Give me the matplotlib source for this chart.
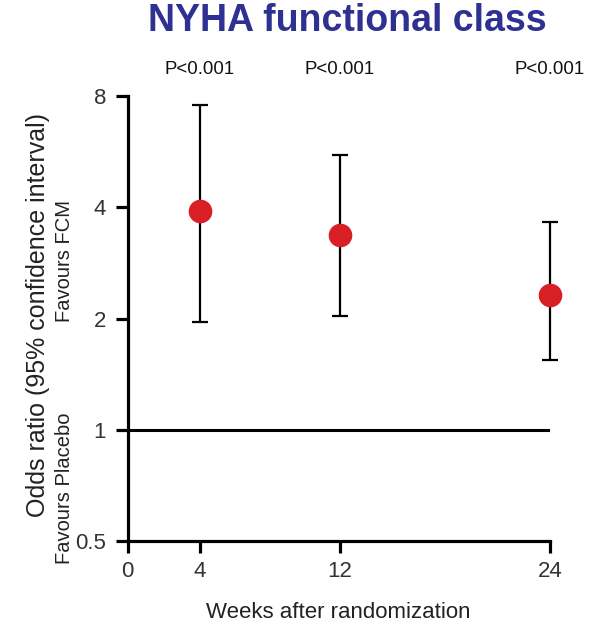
import numpy as np
import matplotlib.pyplot as plt

plt.rcParams['font.family'] = ['Liberation Sans', 'DejaVu Sans']

# data
weeks = [4, 12, 24]
odds = [3.92, 3.37, 2.31]
ci_low = [1.96, 2.03, 1.54]
ci_high = [7.55, 5.54, 3.66]
p_labels = ['P<0.001', 'P<0.001', 'P<0.001']
xticks = [0, 4, 12, 24]
yticks = [0.5, 1, 2, 4, 8]

# uneven spacing of the week axis
tick_pos = [0, 72.3, 212.3, 422.3]
def fwd(x):
    return np.interp(x, xticks, tick_pos)
def inv(x):
    return np.interp(x, tick_pos, xticks)

fig = plt.figure(figsize=(5.9, 6.28), dpi=100)
ax = fig.add_axes([0.2164, 0.1385, 0.932 - 0.2164, 0.847 - 0.1385])

ax.set_xscale('function', functions=(fwd, inv))
ax.set_yscale('log', base=2)
ax.set_xlim(0, 24)
ax.set_ylim(0.5, 8)

ax.axhline(1, color='black', lw=2.2, xmin=0, xmax=1, zorder=1)

err = [np.array(odds) - np.array(ci_low), np.array(ci_high) - np.array(odds)]
ax.errorbar(weeks, odds, yerr=err, fmt='o', color='#d81f26', ms=16,
            ecolor='black', elinewidth=1.6, capsize=6, capthick=1.6, zorder=3,
            clip_on=False)

for w, p in zip(weeks, p_labels):
    ax.text(w, (541 - 69) / 445, p, transform=ax.get_xaxis_transform(), ha='center',
            va='center', fontsize=13.4, color='#111111')

ax.set_xticks(xticks)
ax.set_xticklabels([str(t) for t in xticks])
ax.set_yticks(yticks)
ax.set_yticklabels(['0.5', '1', '2', '4', '8'])
ax.minorticks_off()

for s in ['top', 'right']:
    ax.spines[s].set_visible(False)
for s in ['left', 'bottom']:
    ax.spines[s].set_linewidth(2.3)
ax.tick_params(width=2.3, length=8.5, labelsize=16, pad=7, color='black',
               labelcolor='#333333')
ax.tick_params(axis='x', pad=6)

fig.text(338 / 590, 1 - 612 / 628, 'Weeks after randomization', ha='center', va='center',
         fontsize=16, color='#222222')
fig.text(38 / 590, 1 - 315 / 628, 'Odds ratio (95% confidence interval)', rotation=90,
         ha='center', va='center', fontsize=18, color='#222222')

fig.text(65 / 590, 1 - 261 / 628, 'Favours FCM', rotation=90, ha='center', va='center',
         fontsize=14.5, color='#222222')
fig.text(65 / 590, 1 - 488 / 628, 'Favours Placebo', rotation=90, ha='center', va='center',
         fontsize=14.5, color='#222222')

fig.text(347 / 590, 1 - 21 / 628, 'NYHA functional class', ha='center', va='center',
         fontsize=27, fontweight='bold', color='#2e3192')

fig.savefig('out.png', dpi=100)
